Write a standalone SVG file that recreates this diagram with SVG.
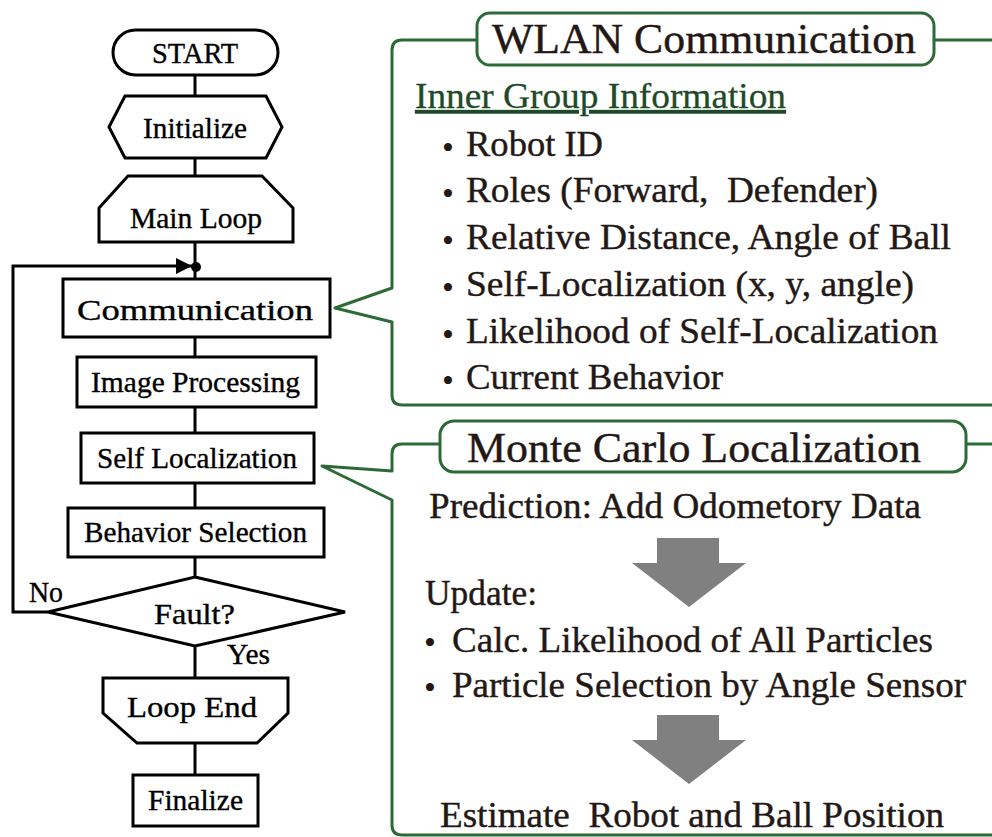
<svg xmlns="http://www.w3.org/2000/svg" width="992" height="837" viewBox="0 0 992 837">
  <style>
    text { font-family: "Liberation Serif", "Times New Roman", Times, serif; }
    .fc { fill: #ffffff; stroke: #000000; stroke-width: 3; stroke-linejoin: miter; }
    .ln { fill: none; stroke: #000000; stroke-width: 3; }
    .lbl { fill: #000000; stroke: #000000; stroke-width: 0.35; font-size: 29px; }
    .frame { fill: none; stroke: #2c6a36; stroke-width: 3; stroke-linejoin: round; }
    .ttl { fill: #ffffff; stroke: #2c6a36; stroke-width: 3; }
    .big { fill: #231815; stroke: #231815; stroke-width: 0.4; font-size: 42px; }
    .item { fill: #231815; stroke: #231815; stroke-width: 0.4; font-size: 36px; }
    .dot { fill: #231815; font-size: 34px; text-anchor: middle; }
    .sub { fill: #1f4a28; stroke: #1f4a28; stroke-width: 0.3; font-size: 36px; text-decoration: underline; }
    .garrow { fill: #808080; }
  </style>
  <defs>
    <marker id="tri" viewBox="0 0 16 16" refX="16" refY="8" markerWidth="16" markerHeight="16" markerUnits="userSpaceOnUse" orient="auto">
      <path d="M0,0 L16,8 L0,16 Z" fill="#000000"/>
    </marker>
  </defs>
  <rect width="992" height="837" fill="#ffffff"/>

  <!-- flow lines -->
  <g id="connectors">
    <line class="ln" x1="195" y1="75" x2="195" y2="96"/>
    <line class="ln" x1="195" y1="158" x2="195" y2="176"/>
    <line class="ln" x1="195" y1="242" x2="195" y2="279"/>
    <line class="ln" x1="195" y1="337" x2="195" y2="357"/>
    <line class="ln" x1="195" y1="407" x2="195" y2="433"/>
    <line class="ln" x1="195" y1="483" x2="195" y2="508"/>
    <line class="ln" x1="195" y1="557" x2="195" y2="577"/>
    <line class="ln" x1="195" y1="646" x2="195" y2="678"/>
    <line class="ln" x1="195" y1="743" x2="195" y2="775"/>
    <!-- "No" branch loops back to the top of the loop body -->
    <polyline class="ln" points="48,612 13,612 13,266 192,266" marker-end="url(#tri)"/>
    <circle cx="196" cy="267" r="5" fill="#000000"/>
    <text class="lbl" x="29" y="602" textLength="34" lengthAdjust="spacingAndGlyphs">No</text>
    <text class="lbl" x="227" y="664" textLength="43" lengthAdjust="spacingAndGlyphs">Yes</text>
  </g>

  <g id="start">
    <rect class="fc" x="113" y="30" width="165" height="45" rx="22.5"/>
    <text class="lbl" x="152" y="63" textLength="86" lengthAdjust="spacingAndGlyphs">START</text>
  </g>
  <g id="initialize">
    <polygon class="fc" points="109,127 125,96 266,96 282,127 266,158 125,158"/>
    <text class="lbl" x="143" y="138" textLength="104" lengthAdjust="spacingAndGlyphs">Initialize</text>
  </g>
  <g id="main-loop">
    <polygon class="fc" points="99,208 128,176 262,176 293,208 293,242 99,242"/>
    <text class="lbl" x="130" y="228" textLength="132" lengthAdjust="spacingAndGlyphs">Main Loop</text>
  </g>
  <g id="communication">
    <rect class="fc" x="63" y="279" width="267" height="58"/>
    <text class="lbl" x="77" y="320" font-size="36" textLength="236" lengthAdjust="spacingAndGlyphs">Communication</text>
  </g>
  <g id="image-processing">
    <rect class="fc" x="77" y="357" width="239" height="50"/>
    <text class="lbl" x="91" y="392" textLength="209" lengthAdjust="spacingAndGlyphs">Image Processing</text>
  </g>
  <g id="self-localization">
    <rect class="fc" x="81" y="433" width="233" height="50"/>
    <text class="lbl" x="97" y="468" textLength="200" lengthAdjust="spacingAndGlyphs">Self Localization</text>
  </g>
  <g id="behavior-selection">
    <rect class="fc" x="68" y="508" width="256" height="49"/>
    <text class="lbl" x="84" y="542" textLength="223" lengthAdjust="spacingAndGlyphs">Behavior Selection</text>
  </g>
  <g id="fault">
    <polygon class="fc" points="195,577 345,612 195,646 48,612"/>
    <text class="lbl" x="154" y="624" textLength="81" lengthAdjust="spacingAndGlyphs">Fault?</text>
  </g>
  <g id="loop-end">
    <polygon class="fc" points="103,678 288,678 288,713 257,743 137,743 103,713"/>
    <text class="lbl" x="127" y="717" textLength="130" lengthAdjust="spacingAndGlyphs">Loop End</text>
  </g>
  <g id="finalize">
    <rect class="fc" x="133" y="775" width="125" height="51"/>
    <text class="lbl" x="148" y="810" textLength="95" lengthAdjust="spacingAndGlyphs">Finalize</text>
  </g>

  <!-- WLAN communication callout -->
  <g id="wlan-callout">
    <path class="frame" d="M477,40 L402,40 Q392,40 392,50 L392,288 L335,308 L392,322 L392,395 Q392,405 402,405 L996,405"/>
    <line class="frame" x1="934" y1="40" x2="996" y2="40"/>
    <rect class="ttl" x="477" y="13" width="457" height="52" rx="13"/>
    <text class="big" x="492" y="53" textLength="424" lengthAdjust="spacingAndGlyphs">WLAN Communication</text>
    <text class="sub" x="415" y="108" textLength="371" lengthAdjust="spacingAndGlyphs">Inner Group Information</text>
    <text class="dot" x="448" y="159">•</text>
    <text class="item" x="466" y="156" textLength="137" lengthAdjust="spacingAndGlyphs">Robot ID</text>
    <text class="dot" x="448" y="205">•</text>
    <text class="item" x="466" y="202" textLength="412" lengthAdjust="spacingAndGlyphs" xml:space="preserve">Roles (Forward,  Defender)</text>
    <text class="dot" x="448" y="252">•</text>
    <text class="item" x="466" y="249" textLength="485" lengthAdjust="spacingAndGlyphs">Relative Distance, Angle of Ball</text>
    <text class="dot" x="448" y="299">•</text>
    <text class="item" x="466" y="296" textLength="448" lengthAdjust="spacingAndGlyphs">Self-Localization (x, y, angle)</text>
    <text class="dot" x="448" y="346">•</text>
    <text class="item" x="466" y="343" textLength="472" lengthAdjust="spacingAndGlyphs">Likelihood of Self-Localization</text>
    <text class="dot" x="448" y="392">•</text>
    <text class="item" x="466" y="389" textLength="257" lengthAdjust="spacingAndGlyphs">Current Behavior</text>
  </g>

  <!-- Monte Carlo localization callout -->
  <g id="mcl-callout">
    <path class="frame" d="M440,444 L402,444 Q392,444 392,454 L392,471 L322,466 L392,500 L392,825 Q392,835 402,835 L996,835"/>
    <line class="frame" x1="966" y1="444" x2="996" y2="444"/>
    <rect class="ttl" x="440" y="421" width="526" height="51" rx="14"/>
    <text class="big" x="467" y="462" textLength="454" lengthAdjust="spacingAndGlyphs">Monte Carlo Localization</text>
    <text class="item" x="429" y="518" textLength="492" lengthAdjust="spacingAndGlyphs">Prediction: Add Odometory Data</text>
    <polygon class="garrow" points="657,538 719,538 719,563 746,563 689,607 632,563 657,563"/>
    <text class="item" x="425" y="605" textLength="112" lengthAdjust="spacingAndGlyphs">Update:</text>
    <text class="dot" x="430" y="654">•</text>
    <text class="item" x="452" y="652" textLength="481" lengthAdjust="spacingAndGlyphs">Calc. Likelihood of All Particles</text>
    <text class="dot" x="430" y="699">•</text>
    <text class="item" x="452" y="697" textLength="514" lengthAdjust="spacingAndGlyphs">Particle Selection by Angle Sensor</text>
    <polygon class="garrow" points="657,715 719,715 719,740 746,740 689,784 632,740 657,740"/>
    <text class="item" x="440" y="827" textLength="504" lengthAdjust="spacingAndGlyphs" xml:space="preserve">Estimate  Robot and Ball Position</text>
  </g>
</svg>
